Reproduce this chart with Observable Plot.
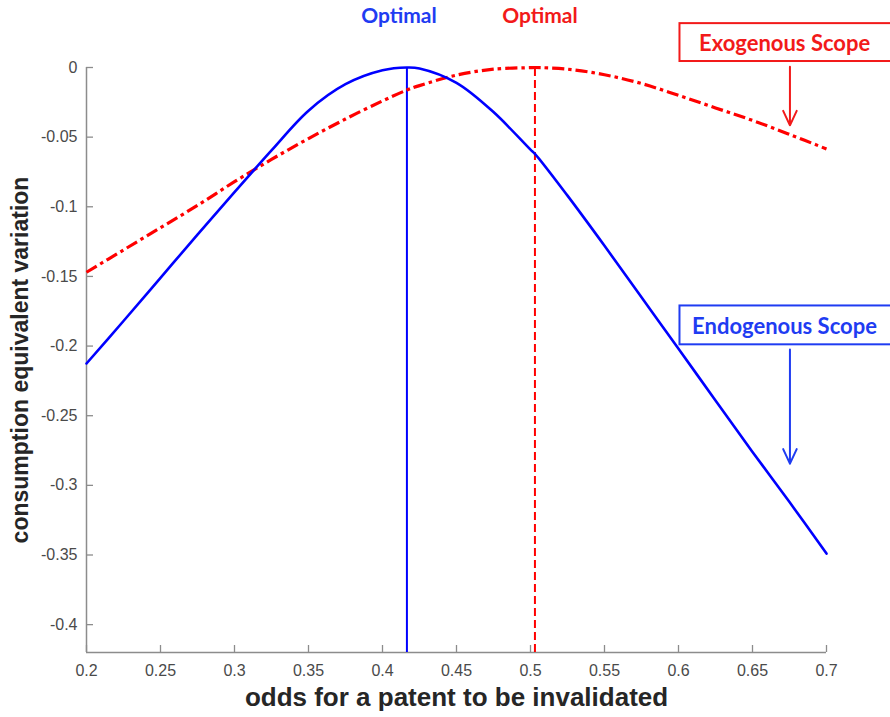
<!DOCTYPE html>
<html>
<head>
<meta charset="utf-8">
<script src="https://cdn.jsdelivr.net/npm/d3@7"></script>
<script src="https://cdn.jsdelivr.net/npm/@observablehq/plot@0.6"></script>
<style>
  html, body { margin: 0; padding: 0; background: #fff; overflow: hidden; }
  #chart svg { display: block; }
</style>
</head>
<body>
<div id="chart"></div>
<script>
// Odds that a patent is invalidated (shared grid for both curves)
const odds = [0.2, 0.225, 0.25, 0.275, 0.3, 0.325, 0.35, 0.375, 0.4, 0.4165, 0.425, 0.45,
  0.475, 0.5, 0.503, 0.525, 0.55, 0.575, 0.6, 0.625, 0.65, 0.675, 0.7];

// Consumption equivalent variation, endogenous patent scope
const endogenous = [-0.2125, -0.182, -0.151, -0.120, -0.0895, -0.0595, -0.031, -0.012, -0.002, 0,
  -0.0007, -0.011, -0.032, -0.059, -0.062, -0.092, -0.128, -0.165, -0.202, -0.239, -0.276, -0.312, -0.349];

// Consumption equivalent variation, exogenous patent scope
const exogenous = [-0.147, -0.131, -0.115, -0.099, -0.082, -0.066, -0.051, -0.037, -0.024, -0.0162,
  -0.013, -0.0055, -0.0012, -0.0001, 0, -0.0012, -0.0052, -0.0115, -0.020, -0.029, -0.038, -0.048, -0.0585];

// Welfare-maximising odds for each regime
const optimalEndogenous = 0.4165;
const optimalExogenous = 0.503;

const xTicks = [0.2, 0.25, 0.3, 0.35, 0.4, 0.45, 0.5, 0.55, 0.6, 0.65, 0.7];
const yTicks = [0, -0.05, -0.1, -0.15, -0.2, -0.25, -0.3, -0.35, -0.4];
const yMin = -0.42;

const xLabel = "odds for a patent to be invalidated";
const yLabel = "consumption equivalent variation";
const optimalLabel = "Optimal";
const exoLabel = "Exogenous Scope";
const endoLabel = "Endogenous Scope";

// Layout
const W = 890, H = 717;
const mL = 86, mR = 64, mT = 67, mB = 65;
const frameW = W - mL - mR, frameH = H - mT - mB;
const tickLen = 7;

const blue = "#0000ff", red = "#ff0000";
const blueText = "#1f3cf2", redText = "#f21a1a";
const axisGray = "#8c8c8c";
const tickFont = "'Liberation Sans', Arial, sans-serif";
const titleFont = "'Liberation Sans', Arial, sans-serif";
const noteFont = "Lato, 'Open Sans', sans-serif";

const endoRows = odds.map((x, i) => ({x, y: endogenous[i]}));
const exoRows = odds.map((x, i) => ({x, y: exogenous[i]}));
const fmt = d => String(d);

// Callout boxes with arrows pointing at each curve
const exoBox = {x1: 0.601, x2: 0.75, y1: 0.0315, y2: 0.0043, tx: 0.6139, ty: 0.0172,
  ax: 0.6753, ay1: 0.0005, ay2: -0.0415};
const endoBox = {x1: 0.601, x2: 0.75, y1: -0.1712, y2: -0.1991, tx: 0.6092, ty: -0.1862,
  ax: 0.6753, ay1: -0.2025, ay2: -0.2844};

const chart = Plot.plot({
  width: W,
  height: H,
  marginLeft: mL,
  marginRight: mR,
  marginTop: mT,
  marginBottom: mB,
  style: {background: "#fff", overflow: "visible"},
  x: {domain: [0.2, 0.7]},
  y: {domain: [yMin, 0]},
  marks: [
    // axes: lines, inward ticks, labels
    Plot.ruleX([0.2], {stroke: axisGray, strokeWidth: 1.5}),
    Plot.ruleY([yMin], {stroke: axisGray, strokeWidth: 1.5}),
    Plot.tickX(xTicks, {x: d => d, insetTop: frameH - tickLen, stroke: axisGray, strokeWidth: 1.3}),
    Plot.tickY(yTicks, {y: d => d, insetRight: frameW - tickLen, stroke: axisGray, strokeWidth: 1.3}),
    Plot.axisX({ticks: xTicks, tickSize: 0, tickPadding: 12, tickFormat: fmt, label: null,
      fontSize: 16, fontFamily: tickFont, fill: "#4a4a4a"}),
    Plot.axisY({ticks: yTicks, tickSize: 0, tickPadding: 9, tickFormat: fmt, label: null,
      fontSize: 16, fontFamily: tickFont, fill: "#4a4a4a"}),
    Plot.text([xLabel], {frameAnchor: "bottom", dy: 45, lineAnchor: "middle", textAnchor: "middle",
      text: d => d, fontSize: 26, fontWeight: "bold", fontFamily: titleFont, fill: "#262626"}),
    Plot.text([yLabel], {frameAnchor: "left", dx: -66, rotate: -90, lineAnchor: "middle",
      textAnchor: "middle", text: d => d, fontSize: 23, fontWeight: "bold", fontFamily: titleFont,
      fill: "#262626"}),

    // optimal odds markers
    Plot.ruleX([optimalEndogenous], {x: d => d, y1: yMin, y2: 0, stroke: blue, strokeWidth: 2}),
    Plot.ruleX([optimalExogenous], {x: d => d, y1: yMin, y2: 0, stroke: red, strokeWidth: 2,
      strokeDasharray: "8,4"}),

    // curves
    Plot.line(exoRows, {x: "x", y: "y", curve: "catmull-rom", stroke: red, strokeWidth: 3.2,
      strokeLinecap: "butt", strokeDasharray: "12,4,3.5,4"}),
    Plot.line(endoRows, {x: "x", y: "y", curve: "catmull-rom", stroke: blue, strokeWidth: 2.6}),

    // "Optimal" labels above each marker
    Plot.text([optimalEndogenous], {x: d => d, y: 0, dx: -8, dy: -51, text: () => optimalLabel,
      fontSize: 21, fontWeight: "bold", fontFamily: noteFont, fill: blueText}),
    Plot.text([optimalExogenous], {x: d => d, y: 0, dx: 5, dy: -51, text: () => optimalLabel,
      fontSize: 21, fontWeight: "bold", fontFamily: noteFont, fill: redText}),

    // callouts
    Plot.rect([exoBox], {x1: "x1", x2: "x2", y1: "y1", y2: "y2", fill: "#fff", stroke: redText, strokeWidth: 2}),
    Plot.text([exoBox], {x: "tx", y: "ty", text: () => exoLabel, textAnchor: "start", fontSize: 22,
      fontWeight: "bold", fontFamily: noteFont, fill: redText}),
    Plot.arrow([exoBox], {x1: "ax", x2: "ax", y1: "ay1", y2: "ay2", stroke: redText, strokeWidth: 2,
      headLength: 12, headAngle: 50}),
    Plot.rect([endoBox], {x1: "x1", x2: "x2", y1: "y1", y2: "y2", fill: "#fff", stroke: blueText, strokeWidth: 2}),
    Plot.text([endoBox], {x: "tx", y: "ty", text: () => endoLabel, textAnchor: "start", fontSize: 22,
      fontWeight: "bold", fontFamily: noteFont, fill: blueText}),
    Plot.arrow([endoBox], {x1: "ax", x2: "ax", y1: "ay1", y2: "ay2", stroke: blueText, strokeWidth: 2,
      headLength: 12, headAngle: 50})
  ]
});

document.getElementById("chart").appendChild(chart);
</script>
</body>
</html>
